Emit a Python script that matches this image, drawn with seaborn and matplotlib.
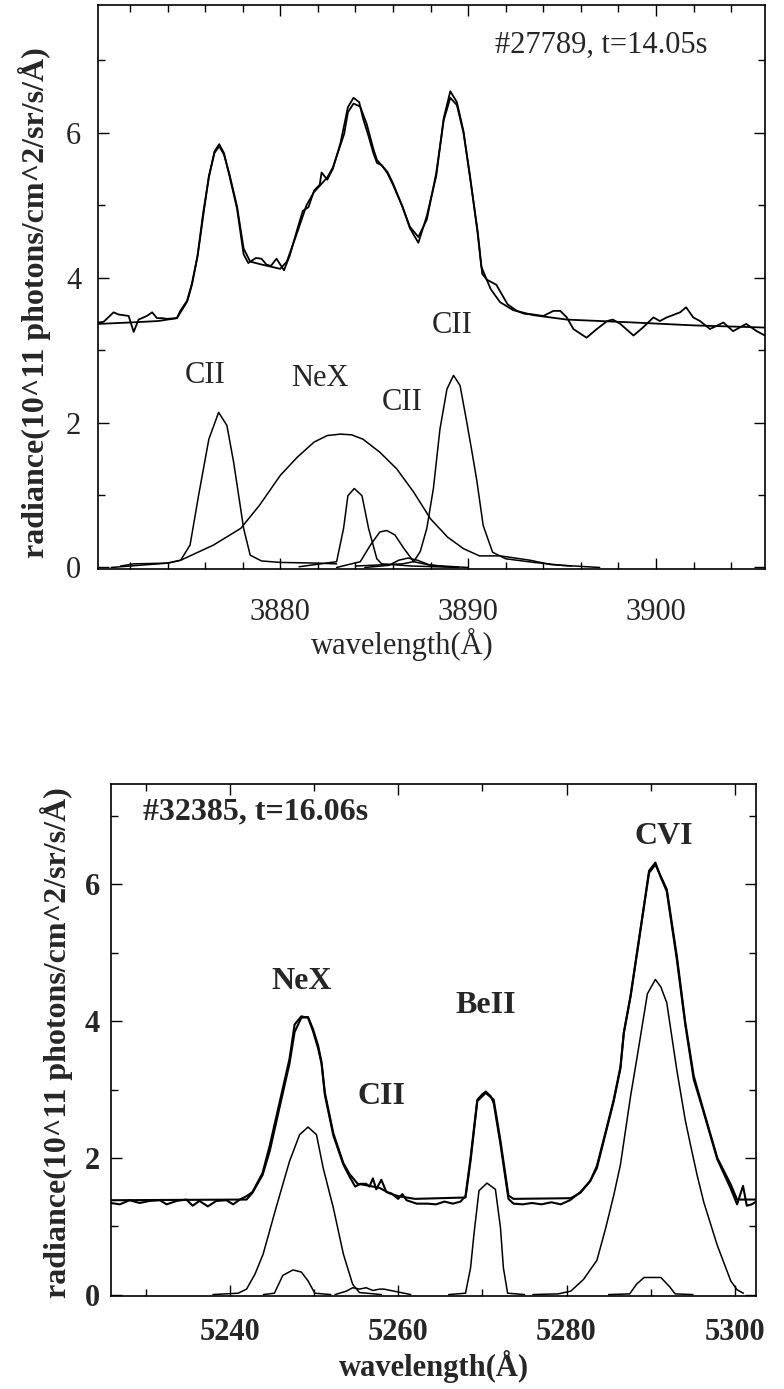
import matplotlib
matplotlib.use("Agg")
import matplotlib.pyplot as plt
from matplotlib.ticker import MultipleLocator
import seaborn as sns
import pandas as pd

# ---------------- Top panel data (#27789, t=14.05s) ----------------
top_fit_x = [3870.3, 3872.0, 3873.5, 3874.5, 3875.05, 3875.3, 3875.6, 3875.9, 3876.2, 3876.5,
             3876.75, 3877.0, 3877.3, 3877.7, 3878.05, 3878.4, 3879.0, 3879.5, 3880.0, 3880.35,
             3880.9, 3881.4, 3881.8, 3882.5, 3882.8, 3883.4, 3883.6, 3883.9, 3884.25, 3884.6,
             3884.95, 3885.15, 3885.7, 3886.0, 3886.5, 3886.9, 3887.35, 3887.8, 3888.3, 3888.7,
             3889.05, 3889.4, 3889.75, 3890.1, 3890.5, 3890.7, 3891.2, 3891.7, 3892.4, 3893.5,
             3895.25, 3898.8, 3902.0, 3905.8]
top_fit_y = [3.36, 3.38, 3.40, 3.44, 3.67, 3.90, 4.30, 4.85, 5.40, 5.72,
             5.81, 5.70, 5.42, 4.98, 4.40, 4.22, 4.18, 4.15, 4.12, 4.22,
             4.62, 5.00, 5.18, 5.38, 5.52, 5.98, 6.28, 6.40, 6.36, 6.12,
             5.78, 5.62, 5.46, 5.30, 4.98, 4.70, 4.56, 4.80, 5.44, 6.17,
             6.48, 6.38, 6.00, 5.40, 4.62, 4.15, 3.84, 3.66, 3.55, 3.48,
             3.42, 3.38, 3.34, 3.31]

top_meas_x = [3870.33, 3870.6, 3871.13, 3871.4, 3871.67, 3871.93, 3872.2, 3872.46, 3872.9, 3873.18,
              3873.44, 3873.7, 3873.97, 3874.5, 3874.68, 3875.04, 3875.3, 3875.6, 3875.9, 3876.2,
              3876.5, 3876.75, 3877.0, 3877.3, 3877.7, 3878.05, 3878.3, 3878.7, 3879.0, 3879.26,
              3879.5, 3879.8, 3880.2, 3880.5, 3880.9, 3881.2, 3881.5, 3881.8, 3882.1, 3882.2,
              3882.5, 3882.8, 3883.2, 3883.6, 3883.9, 3884.2, 3884.4, 3884.7, 3884.95, 3885.15,
              3885.4, 3885.7, 3886.0, 3886.5, 3886.9, 3887.35, 3887.8, 3888.3, 3888.7, 3889.05,
              3889.4, 3889.75, 3890.1, 3890.5, 3890.75, 3891.0, 3891.5, 3892.1, 3892.59, 3893.0,
              3893.47, 3894.0, 3894.54, 3894.9, 3895.25, 3895.6, 3896.3, 3896.85, 3897.4, 3897.7,
              3898.1, 3898.8, 3899.3, 3899.86, 3900.2, 3900.57, 3901.28, 3901.6, 3901.98, 3902.34,
              3902.87, 3903.2, 3903.58, 3904.1, 3904.8, 3905.36, 3905.8]
top_meas_y = [3.38, 3.39, 3.52, 3.49, 3.48, 3.47, 3.25, 3.42, 3.47, 3.52,
              3.44, 3.44, 3.43, 3.44, 3.54, 3.68, 3.92, 4.30, 4.90, 5.38,
              5.74, 5.84, 5.72, 5.40, 4.95, 4.32, 4.20, 4.27, 4.26, 4.18,
              4.16, 4.26, 4.10, 4.30, 4.66, 4.92, 4.97, 5.20, 5.28, 5.45,
              5.35, 5.50, 5.85, 6.35, 6.48, 6.42, 6.20, 5.95, 5.72, 5.58,
              5.55, 5.44, 5.28, 4.98, 4.68, 4.48, 4.85, 5.40, 6.20, 6.57,
              6.42, 6.02, 5.38, 4.65, 4.05, 3.97, 3.90, 3.63, 3.54, 3.50,
              3.49, 3.47, 3.54, 3.54, 3.45, 3.29, 3.17, 3.29, 3.40, 3.42,
              3.36, 3.20, 3.31, 3.45, 3.40, 3.45, 3.52, 3.59, 3.45, 3.40,
              3.29, 3.33, 3.38, 3.26, 3.36, 3.26, 3.20]

top_cii1_x = [3871.5, 3872.2, 3874.0, 3874.7, 3875.2, 3875.65, 3876.2, 3876.72, 3877.16, 3877.52,
              3878.05, 3878.4, 3879.0, 3880.0, 3882.0, 3883.0]
top_cii1_y = [0.02, 0.05, 0.06, 0.10, 0.31, 0.99, 1.77, 2.14, 1.96, 1.45,
              0.54, 0.17, 0.09, 0.07, 0.06, 0.05]

top_nex_x = [3871.0, 3872.5, 3874.0, 3874.7, 3876.45, 3877.9, 3878.9, 3880.0, 3880.9, 3881.8,
             3882.5, 3883.2, 3883.8, 3884.4, 3885.3, 3886.2, 3887.1, 3888.0, 3888.9, 3889.75,
             3890.6, 3891.7, 3893.3, 3894.4, 3895.5]
top_nex_y = [0.00, 0.03, 0.06, 0.10, 0.31, 0.54, 0.86, 1.27, 1.52, 1.73,
             1.82, 1.84, 1.83, 1.77, 1.59, 1.36, 1.04, 0.67, 0.42, 0.26,
             0.16, 0.16, 0.10, 0.04, 0.02]

top_pka_x = [3881.0, 3883.0, 3883.37, 3883.6, 3883.94, 3884.35, 3884.7, 3885.14, 3885.4, 3887.0, 3889.5]
top_pka_y = [0.01, 0.08, 0.54, 0.99, 1.09, 0.99, 0.54, 0.12, 0.05, 0.02, 0.00]

top_pkb_x = [3883.0, 3884.26, 3884.8, 3885.3, 3885.67, 3886.1, 3886.56, 3887.1, 3888.0, 3890.0]
top_pkb_y = [0.00, 0.08, 0.31, 0.49, 0.51, 0.45, 0.27, 0.08, 0.03, 0.00]

top_pkc_x = [3884.5, 3885.8, 3886.3, 3886.8, 3887.3, 3887.9, 3888.8]
top_pkc_y = [0.00, 0.03, 0.10, 0.13, 0.10, 0.04, 0.01]

top_cii2_x = [3884.0, 3886.5, 3887.1, 3887.45, 3887.8, 3888.15, 3888.5, 3888.87, 3889.22, 3889.57,
              3889.93, 3890.2, 3890.46, 3890.8, 3891.3, 3892.0, 3893.5, 3895.0, 3897.0]
top_cii2_y = [0.02, 0.05, 0.08, 0.22, 0.54, 1.09, 1.91, 2.46, 2.65, 2.51,
              2.00, 1.60, 1.20, 0.58, 0.21, 0.12, 0.07, 0.03, 0.00]

# ---------------- Bottom panel data (#32385, t=16.06s) ----------------
bot_fit_x = [5225.9, 5242.0, 5242.7, 5243.9, 5244.75, 5245.9, 5247.1, 5247.7, 5248.5, 5249.3,
             5249.9, 5250.5, 5250.9, 5251.3, 5252.3, 5253.5, 5254.25, 5255.2, 5256.2, 5257.8,
             5259.0, 5260.0, 5262.0, 5268.0, 5268.6, 5269.4, 5270.4, 5271.35, 5272.15, 5273.1,
             5273.7, 5280.5, 5281.65, 5282.8, 5283.6, 5284.6, 5285.6, 5286.4, 5286.8, 5287.6,
             5288.6, 5289.8, 5290.55, 5291.9, 5293.1, 5294.1, 5295.1, 5296.3, 5297.9, 5299.5,
             5300.25, 5302.5]
bot_fit_y = [1.38, 1.39, 1.49, 1.75, 2.10, 2.73, 3.38, 3.84, 4.05, 4.06,
             3.88, 3.64, 3.40, 2.95, 2.36, 1.92, 1.76, 1.62, 1.60, 1.56,
             1.48, 1.44, 1.40, 1.42, 1.96, 2.83, 2.95, 2.85, 2.25, 1.45,
             1.40, 1.41, 1.49, 1.66, 1.85, 2.34, 2.83, 3.31, 3.83, 4.37,
             5.20, 6.17, 6.29, 5.93, 4.95, 3.98, 3.20, 2.68, 2.00, 1.61,
             1.39, 1.39]

bot_meas_x = [5225.87, 5226.94, 5228.1, 5229.3, 5230.5, 5231.7, 5232.5, 5233.7, 5234.85, 5235.6,
              5236.4, 5237.4, 5238.4, 5239.6, 5240.4, 5241.2, 5242.0, 5242.7, 5243.9, 5244.75,
              5245.9, 5247.1, 5247.7, 5248.5, 5249.3, 5249.9, 5250.5, 5250.9, 5251.3, 5252.3,
              5253.5, 5254.25, 5254.9, 5255.5, 5256.2, 5256.6, 5257.0, 5257.4, 5258.0, 5258.6,
              5259.2, 5260.0, 5260.5, 5261.0, 5262.2, 5263.5, 5264.5, 5265.5, 5266.5, 5267.4,
              5268.0, 5268.6, 5269.4, 5270.0, 5270.4, 5271.0, 5271.35, 5272.15, 5273.1, 5273.7,
              5274.8, 5275.9, 5277.0, 5278.2, 5279.3, 5280.4, 5281.65, 5282.8, 5283.6, 5284.6,
              5285.6, 5286.4, 5286.8, 5287.6, 5288.6, 5289.8, 5290.55, 5291.2, 5291.9, 5293.1,
              5294.1, 5295.1, 5296.3, 5297.9, 5299.5, 5300.25, 5300.96, 5301.4, 5302.0, 5302.5]
bot_meas_y = [1.34, 1.32, 1.38, 1.34, 1.37, 1.38, 1.32, 1.37, 1.39, 1.30,
              1.37, 1.29, 1.37, 1.38, 1.32, 1.39, 1.44, 1.50, 1.78, 2.18,
              2.80, 3.45, 3.95, 4.07, 4.05, 3.85, 3.60, 3.38, 2.92, 2.33,
              1.90, 1.72, 1.58, 1.62, 1.62, 1.58, 1.70, 1.54, 1.68, 1.50,
              1.48, 1.40, 1.47, 1.38, 1.33, 1.33, 1.32, 1.36, 1.33, 1.36,
              1.44, 2.00, 2.85, 2.93, 2.97, 2.90, 2.80, 2.20, 1.40, 1.33,
              1.32, 1.34, 1.32, 1.35, 1.32, 1.38, 1.50, 1.66, 1.88, 2.36,
              2.85, 3.33, 3.83, 4.36, 5.18, 6.20, 6.32, 6.10, 5.90, 4.90,
              3.95, 3.15, 2.66, 1.98, 1.55, 1.32, 1.59, 1.30, 1.32, 1.36]

bot_nex_x = [5238.0, 5241.0, 5242.0, 5243.0, 5243.96, 5245.5, 5247.1, 5248.3, 5249.3, 5250.3,
             5251.1, 5252.3, 5253.5, 5254.6, 5255.4, 5258.0]
bot_nex_y = [0.00, 0.02, 0.08, 0.30, 0.59, 1.27, 1.95, 2.34, 2.45, 2.34,
             1.85, 1.27, 0.59, 0.15, 0.03, 0.00]

bot_nex2_x = [5244.0, 5245.3, 5246.3, 5247.5, 5248.5, 5249.3, 5250.1, 5252.0]
bot_nex2_y = [0.00, 0.02, 0.28, 0.36, 0.33, 0.20, 0.02, 0.00]

bot_cii_x = [5252.5, 5253.85, 5254.6, 5255.4, 5256.2, 5257.0, 5257.8, 5258.3, 5260.3, 5261.5]
bot_cii_y = [0.00, 0.05, 0.10, 0.08, 0.10, 0.06, 0.08, 0.08, 0.03, 0.00]

bot_beii_x = [5266.0, 5268.0, 5268.6, 5269.0, 5269.6, 5270.55, 5271.55, 5272.15, 5272.5, 5273.0, 5275.0]
bot_beii_y = [0.00, 0.02, 0.39, 0.88, 1.52, 1.63, 1.54, 0.98, 0.39, 0.02, 0.00]

bot_cvi_x = [5276.0, 5279.0, 5280.5, 5282.0, 5283.6, 5284.6, 5285.6, 5286.4, 5287.6, 5288.4,
             5289.6, 5290.55, 5291.2, 5291.9, 5293.1, 5294.1, 5294.7, 5295.5, 5296.3, 5297.9,
             5299.5, 5300.25, 5301.0]
bot_cvi_y = [0.00, 0.01, 0.05, 0.22, 0.50, 0.95, 1.45, 1.90, 2.90, 3.49,
             4.40, 4.61, 4.50, 4.27, 3.28, 2.55, 2.20, 1.75, 1.35, 0.72,
             0.20, 0.07, 0.02]

bot_cvi2_x = [5285.0, 5287.5, 5288.3, 5289.2, 5291.2, 5292.2, 5292.9, 5295.0]
bot_cvi2_y = [0.00, 0.01, 0.15, 0.25, 0.25, 0.12, 0.01, 0.00]

# ---------------- Labels ----------------
top_note = "#27789, t=14.05s"
bot_note = "#32385, t=16.06s"
top_lines = [("CII", 3876.0, 2.65), ("NeX", 3882.1, 2.61), ("CII", 3886.5, 2.27), ("CII", 3889.15, 3.34)]
bot_lines = [("NeX", 5248.55, 4.58), ("CII", 5258.05, 2.90), ("BeII", 5270.4, 4.23), ("CVI", 5291.5, 6.70)]
ylabel_text = "radiance(10^11 photons/cm^2/sr/s/Å)"
xlabel_text = "wavelength(Å)"

# ---------------- Style ----------------
sns.set_style("ticks")
plt.rcParams["font.family"] = ["Liberation Serif", "DejaVu Serif"]
plt.rcParams["mathtext.fontset"] = "stix"

fig = plt.figure(figsize=(7.84, 13.89), dpi=100)
ax1 = fig.add_axes([0.125, 0.5904, 0.8508, 0.4060])
ax2 = fig.add_axes([0.1416, 0.0670, 0.8227, 0.3686])


def draw(ax, x, y, lw):
    sns.lineplot(x=x, y=y, ax=ax, color="black", linewidth=lw, estimator=None, sort=False)


# Top panel
draw(ax1, top_meas_x, top_meas_y, 1.3)
draw(ax1, top_fit_x, top_fit_y, 1.3)
for cx, cy in [(top_cii1_x, top_cii1_y), (top_nex_x, top_nex_y), (top_pka_x, top_pka_y),
               (top_pkb_x, top_pkb_y), (top_pkc_x, top_pkc_y), (top_cii2_x, top_cii2_y)]:
    draw(ax1, cx, cy, 1.1)

# Bottom panel
draw(ax2, bot_meas_x, bot_meas_y, 1.5)
draw(ax2, bot_fit_x, bot_fit_y, 1.5)
for cx, cy in [(bot_nex_x, bot_nex_y), (bot_nex2_x, bot_nex2_y), (bot_cii_x, bot_cii_y),
               (bot_beii_x, bot_beii_y), (bot_cvi_x, bot_cvi_y), (bot_cvi2_x, bot_cvi2_y)]:
    draw(ax2, cx, cy, 1.1)

# Axes formatting
ax1.set_xlim(3870.3, 3905.8)
ax1.set_ylim(-0.02, 7.76)
ax1.xaxis.set_major_locator(MultipleLocator(10))
ax1.xaxis.set_minor_locator(MultipleLocator(2))
ax1.yaxis.set_major_locator(MultipleLocator(2))
ax1.yaxis.set_minor_locator(MultipleLocator(1))

ax2.set_xlim(5225.9, 5302.5)
ax2.set_ylim(-0.02, 7.47)
ax2.xaxis.set_major_locator(MultipleLocator(20))
ax2.xaxis.set_minor_locator(MultipleLocator(10))
ax2.yaxis.set_major_locator(MultipleLocator(2))
ax2.yaxis.set_minor_locator(MultipleLocator(1))

for ax in (ax1, ax2):
    for s in ax.spines.values():
        s.set_visible(True)
        s.set_linewidth(1.2)
        s.set_color("black")
    ax.tick_params(which="both", direction="in", top=True, right=True, color="black", width=1.0)
    ax.tick_params(which="major", length=8)
    ax.tick_params(which="minor", length=5)
    ax.grid(False)

ax1.tick_params(axis="x", which="major", labelsize=22, pad=21)
ax1.tick_params(axis="y", which="major", labelsize=22, pad=12)
ax2.tick_params(axis="x", which="major", labelsize=22, pad=16)
ax2.tick_params(axis="y", which="major", labelsize=22, pad=8)
for lab in ax2.get_xticklabels() + ax2.get_yticklabels():
    lab.set_fontweight("bold")

ax1.set_xlabel(xlabel_text, fontsize=22)
ax1.xaxis.set_label_coords(0.457, -0.105)
ax1.xaxis.label.set_va("top")
ax1.set_ylabel(ylabel_text, fontsize=23, fontweight="bold", va="center")
ax1.yaxis.set_label_coords(-0.095, 0.473)

ax2.set_xlabel(xlabel_text, fontsize=22, fontweight="bold")
ax2.xaxis.set_label_coords(0.5, -0.105)
ax2.xaxis.label.set_va("top")
ax2.set_ylabel(ylabel_text, fontsize=23, fontweight="bold", va="center")
ax2.yaxis.set_label_coords(-0.084, 0.494)

ax1.text(3897.1, 7.2, top_note, fontsize=22, ha="center", va="center")
for t, x, y in top_lines:
    ax1.text(x, y, t, fontsize=22, ha="center", va="center")

ax2.text(5243.1, 7.06, bot_note, fontsize=23, fontweight="bold", ha="center", va="center")
for t, x, y in bot_lines:
    ax2.text(x, y, t, fontsize=23, fontweight="bold", ha="center", va="center")

fig.savefig("out.png", dpi=100, facecolor="white")
